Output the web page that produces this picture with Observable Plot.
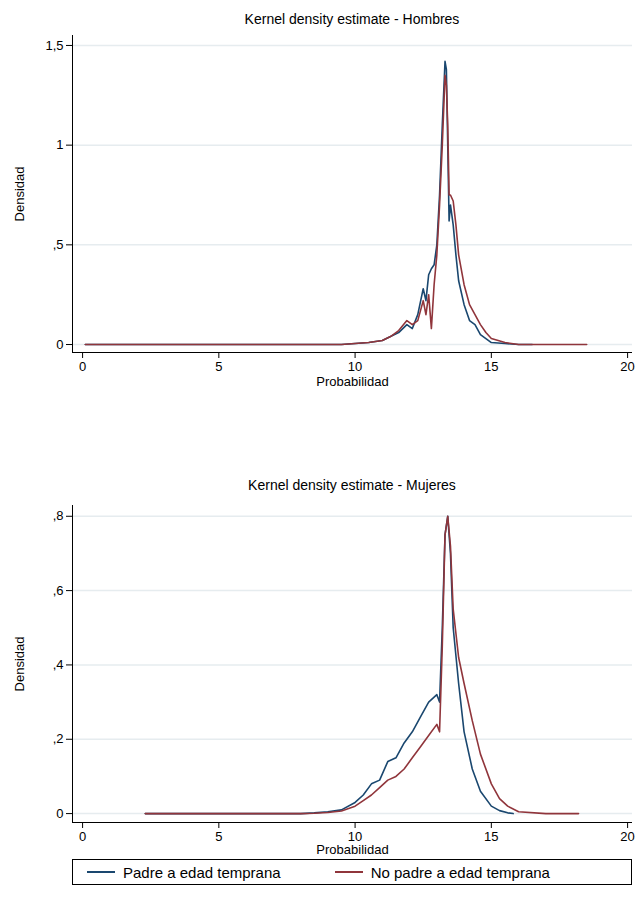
<!DOCTYPE html>
<html><head><meta charset="utf-8">
<script src="https://cdn.jsdelivr.net/npm/d3@7"></script>
<script src="https://cdn.jsdelivr.net/npm/@observablehq/plot@0.6"></script>
<style>
body{margin:0;background:#fff;font-family:"Liberation Sans",Arial,sans-serif}
#wrap{position:relative;width:644px;height:911px}
.t{position:absolute;left:72px;width:560px;text-align:center;font-size:14px}
#top{position:absolute;left:0;top:0}
#bot{position:absolute;left:0;top:460px}
#legend{position:absolute;left:72px;top:859px;width:560px;height:26px;border:1px solid #000;box-sizing:border-box;font-size:15px;display:flex;align-items:center;background:#fff}
.sw{display:inline-block;width:28px;height:2px;margin:0 8px 0 14px}
</style></head><body>
<div id="wrap">
<div class="t" style="top:11px">Kernel density estimate - Hombres</div>
<div id="top"></div>
<div class="t" style="top:477px">Kernel density estimate - Mujeres</div>
<div id="bot"></div>
<div id="legend"><span class="sw" style="background:#1a476f"></span>Padre a edad temprana<span style="width:40px"></span><span class="sw" style="background:#90353b"></span>No padre a edad temprana</div>
</div>
<script>
const seriesNames = ["Padre a edad temprana", "No padre a edad temprana"];
const colors = ["#1a476f", "#90353b"];

// Hombres
const hX = [0.1,9.5,10,10.5,11,11.3,11.6,11.9,12.1,12.3,12.5,12.6,12.7,12.8,12.9,13.0,13.1,13.2,13.3,13.35,13.4,13.45,13.5,13.6,13.7,13.8,14,14.2,14.4,14.6,14.8,15,15.5,16,16.5];
const hBlue = [0,0,0.005,0.01,0.02,0.04,0.06,0.1,0.08,0.15,0.28,0.22,0.35,0.38,0.4,0.5,0.75,1.1,1.42,1.38,1.0,0.62,0.7,0.6,0.45,0.32,0.2,0.12,0.1,0.05,0.03,0.01,0.005,0,0];
const hRedX = [...hX, 18.5];
const hRed = [0,0,0.005,0.01,0.02,0.04,0.07,0.12,0.1,0.12,0.22,0.15,0.25,0.08,0.3,0.45,0.7,1.0,1.35,1.3,1.1,0.75,0.75,0.72,0.6,0.45,0.3,0.2,0.15,0.1,0.06,0.03,0.01,0,0,0];

// Mujeres
const mBlueX = [2.3,8,8.5,9,9.5,10,10.3,10.6,10.9,11.2,11.5,11.8,12.1,12.4,12.7,13,13.1,13.2,13.3,13.4,13.5,13.6,13.8,14,14.3,14.6,15,15.3,15.6,15.8];
const mBlue = [0,0,0.002,0.005,0.01,0.03,0.05,0.08,0.09,0.14,0.15,0.19,0.22,0.26,0.3,0.32,0.3,0.5,0.75,0.8,0.7,0.5,0.35,0.22,0.12,0.06,0.02,0.008,0.002,0];
const mRedX = [2.3,8,8.5,9,9.5,10,10.3,10.6,10.9,11.2,11.5,11.8,12.1,12.4,12.7,13,13.1,13.2,13.3,13.4,13.5,13.6,13.8,14,14.3,14.6,15,15.3,15.6,16,17,18.2];
const mRed = [0,0,0.001,0.003,0.007,0.02,0.035,0.05,0.07,0.09,0.1,0.12,0.15,0.18,0.21,0.24,0.22,0.45,0.75,0.8,0.72,0.55,0.42,0.35,0.25,0.16,0.08,0.04,0.02,0.005,0,0];

const xTicks = [0,5,10,15,20];
const fmt = d => d === 0 ? "0" : String(d).replace(/^0\./, ",").replace(".", ",");

function rows(xs, ys, s) { return xs.map((x, i) => ({x, y: ys[i], s})); }

function chart(data, yDomain, yTicks, height, marginTop, marginBottom, labelOffset) {
  return Plot.plot({
    width: 644, height, marginLeft: 72, marginRight: 12, marginTop, marginBottom,
    style: {fontFamily: "Liberation Sans, Arial, sans-serif", fontSize: "14px", color: "#000"},
    x: {domain: [-0.37, 20.18]},
    y: {domain: yDomain},
    color: {domain: seriesNames, range: colors},
    marks: [
      Plot.gridY(yTicks, {stroke: "#e6ecef", strokeOpacity: 1, strokeWidth: 1.5}),
      Plot.ruleX([-0.37], {stroke: "#000"}),
      Plot.ruleY([yDomain[0]], {stroke: "#000"}),
      Plot.axisX({ticks: xTicks, tickSize: 6, fontSize: 13, label: "Probabilidad", labelAnchor: "center", labelArrow: "none", labelOffset}),
      Plot.axisY({ticks: yTicks, tickFormat: fmt, tickSize: 6, fontSize: 13, label: "Densidad", labelAnchor: "center", labelArrow: "none", labelOffset: 58}),
      Plot.line(data, {x: "x", y: "y", z: "s", stroke: "s", strokeWidth: 1.6})
    ]
  });
}

const hData = [...rows(hX, hBlue, seriesNames[0]), ...rows(hRedX, hRed, seriesNames[1])];
const mData = [...rows(mBlueX, mBlue, seriesNames[0]), ...rows(mRedX, mRed, seriesNames[1])];
document.getElementById("top").append(chart(hData, [-0.04, 1.55], [0, 0.5, 1, 1.5], 410, 35, 58, 33));
document.getElementById("bot").append(chart(mData, [-0.024, 0.829], [0, 0.2, 0.4, 0.6, 0.8], 398, 45, 36, 31));
</script>
</body></html>
